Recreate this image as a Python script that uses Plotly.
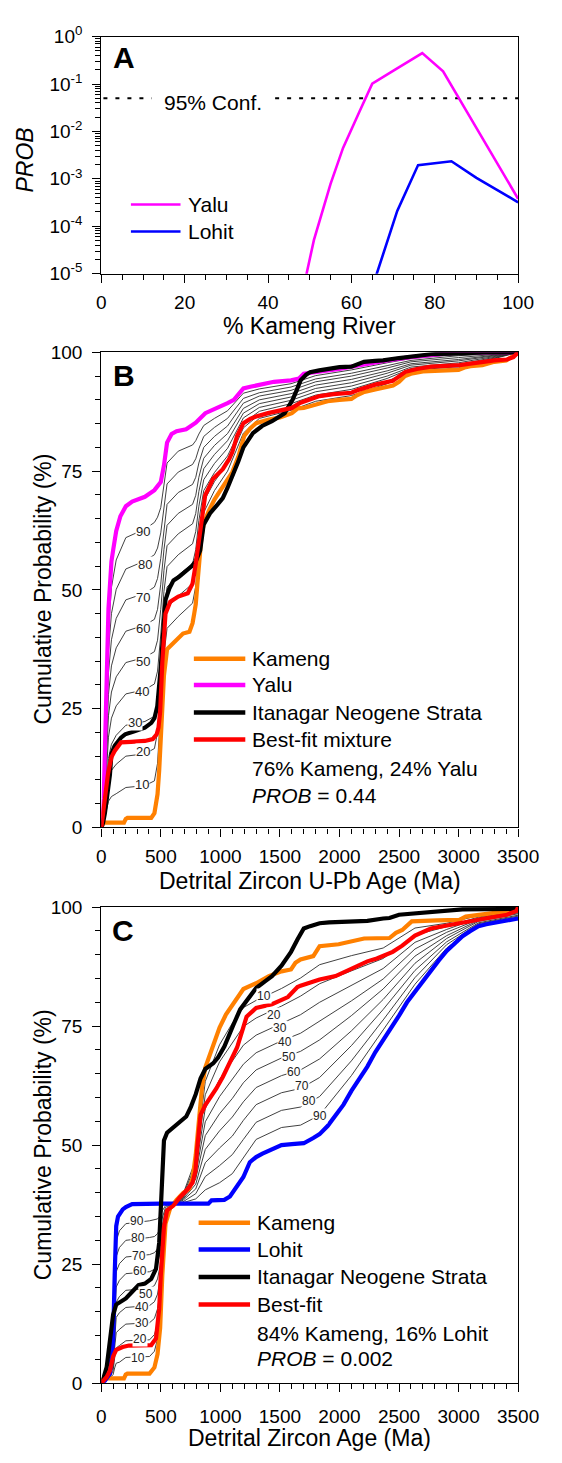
import math
import plotly.graph_objects as go

FONT = "Liberation Sans, Arial, Helvetica, sans-serif"
ORANGE = "#FF8000"
MAGENTA = "#FF00FF"
BLUE = "#0000FF"
RED = "#FF0000"
BLACK = "#000000"
THIN = "#2b2b2b"

# ---------------- Panel A data ----------------
a_yalu_pct = [48.5, 49.2, 51, 55, 58, 62, 65, 70, 77, 82, 100]
a_yalu_prob = [5.0e-6, 1.0e-5, 5.1e-5, 7.8e-4, 4.5e-3, 2.7e-2, 0.102, 0.19, 0.45, 0.186, 3.8e-4]
a_lohit_pct = [64.8, 66.1, 71, 76, 84, 90, 100]
a_lohit_prob = [4.5e-6, 1.0e-5, 2.1e-4, 1.95e-3, 2.35e-3, 1.05e-3, 3.2e-4]
a_conf_level = 0.05
a_conf_left = [0.5, 12.1]
a_conf_right = [41.7, 100]

# ---------------- Panel B data (Kameng vs Yalu) ----------------
b_kameng_age = [0, 8, 20, 190, 205, 219, 419, 446, 472, 486, 499, 512, 526, 552, 592, 646, 686, 740, 766, 780,
                793, 806, 819, 840, 860, 900, 950, 1000, 1050, 1100, 1150, 1200, 1250, 1300, 1400, 1500, 1600, 1650, 1700, 1800,
                1900, 2000, 2100, 2150, 2200, 2300, 2400, 2450, 2500, 2550, 2600, 2700, 2800, 3000, 3050, 3100, 3200, 3250, 3300, 3400,
                3450, 3480, 3500]
b_kameng_cum = [0, 0.5, 1, 1, 1.8, 2, 2, 3, 7, 12, 19, 26, 32, 37.5, 38.5, 40, 40.8, 41.2, 43, 45,
                47, 51, 55.5, 61, 64, 66.5, 69, 71, 73, 74.8, 78, 82.4, 84, 85.1, 85.8, 86.3, 87.2, 88.2, 88.3, 89,
                89.7, 90, 90.2, 91, 91.6, 92.2, 92.8, 93, 93.8, 95, 95.5, 96, 96.1, 96.3, 96.8, 97.1, 97.3, 97.6, 98, 98.3,
                99, 99.6, 100]

b_yalu_age = [0, 10, 20, 30, 40, 50, 60, 70, 85, 100, 125, 160, 206, 259, 320, 366, 446, 499, 526, 552,
              590, 632, 712, 793, 873, 950, 1006, 1060, 1113, 1150, 1193, 1260, 1327, 1450, 1593, 1660, 1700, 1800, 1900, 2000,
              2100, 2200, 2400, 2600, 2800, 3000, 3500]
b_yalu_cum = [0, 1, 6, 14, 24, 36, 46, 52, 56, 58.5, 62.4, 65.5, 67.6, 68.6, 69.3, 69.6, 71, 72.7, 76.2, 81,
              82.8, 83.4, 83.8, 85.2, 87.2, 88, 88.6, 89.3, 90, 91.2, 92.4, 92.8, 93.1, 93.8, 94.1, 94.5, 95.5, 95.8, 96, 96.5,
              97, 97.5, 98.3, 99, 99.5, 100, 100]

b_itan_age = [0, 15, 30, 45, 60, 72, 85, 112, 165, 200, 272, 366, 420, 446, 470, 486, 500, 512, 525, 539,
              570, 606, 650, 713, 760, 793, 830, 859, 912, 970, 1020, 1060, 1113, 1150, 1193, 1240, 1273, 1350, 1433, 1540,
              1606, 1640, 1673, 1720, 1753, 1830, 1913, 2000, 2100, 2150, 2206, 2300, 2366, 2500, 2633, 2767, 3033, 3200, 3500]
b_itan_cum = [0, 1, 3, 6, 9, 11, 15.5, 17.2, 18.9, 19.6, 20.2, 21, 22, 23, 25.5, 29.2, 34, 38.3, 44, 47.9,
              50.2, 52, 52.7, 54, 55, 56, 58.3, 63.7, 66.1, 67.8, 69.3, 71.5, 74.5, 77, 80, 82, 83, 84.5, 85.5, 87.2,
              90, 92, 94.1, 95.3, 95.8, 96.2, 96.6, 96.9, 97, 97.5, 98, 98.2, 98.3, 98.8, 99.1, 99.6, 99.8, 100, 100]

b_best_age = [0, 13, 30, 45, 56, 70, 85, 112, 139, 165, 250, 366, 432, 465, 480, 494, 512, 525, 539, 579,
              646, 726, 766, 793, 815, 832, 850, 872, 939, 1020, 1073, 1100, 1140, 1193, 1250, 1300, 1400, 1513, 1600, 1673,
              1750, 1833, 1950, 2100, 2150, 2207, 2300, 2447, 2500, 2554, 2650, 2767, 3007, 3087, 3200, 3300, 3407, 3460, 3500]
b_best_cum = [0, 3, 6, 9, 11.3, 13, 14.8, 16.1, 17.2, 17.9, 18, 18.2, 18.6, 19.6, 21, 24.4, 34.7, 40, 45, 47.5,
              48.6, 49.3, 51.3, 55.5, 60, 62.4, 66, 69.9, 73.4, 75.4, 77.5, 79, 82.4, 85.1, 86, 86.5, 87.2, 87.7, 88.3, 89.4,
              90, 90.8, 91.2, 91.5, 92, 92.5, 93.2, 94, 95, 95.9, 96.5, 97, 97.3, 97.6, 97.9, 98.3, 98.5, 99, 100]

# thin mixture curves (label = % Yalu)
b_mix_age = [0, 20, 40, 60, 85, 125, 206, 366, 446, 472, 499, 526, 552, 646, 766, 793, 819, 860, 950, 1060,
             1193, 1327, 1593, 1800, 2100, 2400, 2600, 3000, 3500]
b_mix_10 = [0, 1.5, 3.3, 5.5, 6.5, 7.1, 8.4, 8.8, 9.8, 13.5, 24.4, 36.4, 41.9, 44.4, 47.2, 50.8, 58.5, 66.3, 70.9, 75, 83, 86.1, 87.8, 89.7, 90.9, 93.4, 95.9, 96.7, 100]
b_mix_20 = [0, 2, 5.6, 10, 12, 13.3, 15, 15.5, 16.6, 20, 29.7, 40.8, 46.2, 48.7, 51.3, 54.6, 61.6, 68.6, 72.8, 76.6, 84.1, 86.9, 88.5, 90.4, 91.6, 93.9, 96.2, 97, 100]
b_mix_30 = [0, 2.5, 7.9, 14.5, 17.5, 19.4, 21.5, 22.3, 23.4, 26.4, 35.1, 45.3, 50.6, 53.1, 55.5, 58.5, 64.6, 70.9, 74.7, 78.2, 85.1, 87.6, 89.2, 91, 92.2, 94.5, 96.6, 97.4, 100]
b_mix_40 = [0, 3, 10.2, 19, 23, 25.6, 28.1, 29, 30.2, 32.9, 40.5, 49.7, 54.9, 57.4, 59.7, 62.3, 67.6, 73.2, 76.6, 79.8, 86.2, 88.4, 89.9, 91.7, 92.9, 95, 96.9, 97.8, 100]
b_mix_50 = [0, 3.5, 12.5, 23.5, 28.5, 31.7, 34.7, 35.8, 37, 39.4, 45.9, 54.1, 59.3, 61.8, 63.9, 66.1, 70.7, 75.5, 78.5, 81.4, 87.2, 89.2, 90.6, 92.4, 93.6, 95.6, 97.3, 98.2, 100]
b_mix_60 = [0, 4, 14.8, 28, 34, 37.8, 41.3, 42.6, 43.8, 45.9, 51.2, 58.5, 63.6, 66.1, 68, 69.9, 73.7, 77.7, 80.4, 82.9, 88.2, 90, 91.3, 93.1, 94.3, 96.1, 97.6, 98.5, 100]
b_mix_70 = [0, 4.5, 17.1, 32.5, 39.5, 44, 47.9, 49.3, 50.6, 52.4, 56.6, 62.9, 68, 70.5, 72.2, 73.7, 76.7, 80, 82.3, 84.5, 89.3, 90.8, 92, 93.8, 95, 96.7, 98, 98.9, 100]
b_mix_80 = [0, 5, 19.4, 37, 45, 50.1, 54.4, 56.1, 57.4, 58.8, 62, 67.4, 72.3, 74.8, 76.4, 77.6, 79.7, 82.3, 84.2, 86.1, 90.3, 91.5, 92.7, 94.4, 95.6, 97.2, 98.3, 99.3, 100]
b_mix_90 = [0, 5.5, 21.7, 41.5, 50.5, 56.3, 61, 62.8, 64.2, 65.3, 67.3, 71.8, 76.7, 79.2, 80.5, 81.4, 82.8, 84.6, 86.1, 87.7, 91.4, 92.3, 93.4, 95.1, 96.3, 97.8, 98.7, 99.6, 100]

b_label_pct = [10, 20, 30, 40, 50, 60, 70, 80, 90]
b_label_age = [339, 352, 285, 339, 352, 352, 352, 365, 352]
b_label_cum = [9.0, 16.0, 22.0, 28.6, 35.0, 41.8, 48.3, 55.3, 62.2]

# ---------------- Panel C data (Kameng vs Lohit) ----------------
c_kameng_age = [0, 8, 20, 190, 205, 219, 405, 446, 472, 494, 512, 539, 579, 632, 686, 740, 766, 793, 819, 846,
                873, 912, 953, 993, 1046, 1100, 1140, 1193, 1300, 1407, 1513, 1593, 1630, 1673, 1780, 1810, 1833, 1993, 2127, 2207,
                2420, 2474, 2527, 2607, 2820, 3007, 3060, 3247, 3354, 3460, 3500]
c_kameng_cum = [0, 0.5, 1, 1, 1.8, 2, 2, 3.3, 6.1, 11.6, 22.6, 33.5, 36.8, 38.5, 39.9, 40.9, 43, 48, 55, 62.2,
                66.3, 69.1, 71.9, 74.7, 77.4, 79.5, 80.9, 82.8, 84, 85.5, 86.5, 86.9, 88.3, 89, 89.7, 90.8, 91.8, 92.2, 93, 93.4,
                93.5, 94.6, 95.2, 97, 97.2, 97.3, 98, 98.6, 98.9, 99.3, 100]

c_lohit_age = [0, 30, 72, 99, 112, 125, 140, 152, 180, 206, 259, 500, 899, 926, 1033, 1080, 1113, 1160, 1193, 1247,
               1300, 1353, 1420, 1513, 1600, 1700, 1780, 1833, 1900, 1967, 2034, 2100, 2167, 2234, 2300, 2367, 2434, 2500, 2567, 2634,
               2700, 2767, 2834, 2900, 2967, 3033, 3100, 3167, 3233, 3300, 3400, 3460, 3500]
c_lohit_cum = [0, 0.5, 2, 8.9, 22.7, 33, 35, 35.4, 36.5, 37, 37.6, 37.7, 37.7, 38.4, 38.5, 39.2, 40.5, 42, 43.3, 46.4,
               47.5, 48.2, 49, 50, 50.2, 50.4, 51.5, 52.3, 54, 56.2, 58.5, 61.4, 64, 66.5, 69.5, 72, 74.5, 77.2, 80, 82.3,
               84.5, 86.7, 88.8, 90.8, 92.4, 93.9, 95, 96, 96.4, 96.7, 97.1, 97.4, 97.6]

c_itan_age = [0, 20, 45, 72, 99, 125, 160, 206, 259, 312, 366, 419, 459, 486, 499, 512, 526, 552, 606, 659,
              713, 753, 793, 833, 873, 940, 980, 1033, 1073, 1113, 1166, 1220, 1300, 1380, 1433, 1513, 1567, 1593, 1647, 1673,
              1700, 1753, 1833, 1913, 2100, 2234, 2367, 2420, 2500, 2634, 2767, 2900, 3033, 3460, 3500]
c_itan_cum = [0, 1.2, 3.4, 8.9, 14.4, 16.5, 17, 17.8, 19.2, 20.6, 20.9, 21.9, 24, 29.5, 36.4, 44.5, 51, 52.6, 53.8, 54.9,
              56, 58.1, 60.7, 64, 66, 67.2, 68.4, 70.7, 73.3, 75.5, 78.5, 80.2, 83, 84.5, 85.5, 87.7, 89.5, 90.6, 93.2, 94.3,
              95.5, 96, 96.6, 96.8, 96.9, 97.1, 97.6, 97.7, 98.4, 98.7, 99.1, 99.4, 99.5, 99.6, 100]

c_best_age = [0, 20, 45, 72, 99, 125, 179, 232, 419, 459, 486, 499, 512, 526, 552, 606, 659, 713, 766, 790,
              806, 833, 873, 913, 966, 1020, 1073, 1140, 1193, 1220, 1300, 1433, 1567, 1647, 1673, 1833, 1967, 2100, 2180, 2234,
              2314, 2420, 2447, 2527, 2634, 2767, 3033, 3247, 3407, 3487, 3500]
c_best_cum = [0, 0.6, 1.3, 2.6, 5.6, 7, 7.6, 7.9, 8, 9.4, 15.6, 22.5, 28, 32.8, 36.3, 37.3, 39, 40.4, 42.1, 44.5,
              49.5, 56.3, 58.4, 59.8, 61.9, 64.3, 66.9, 70.5, 74.8, 77, 78.8, 79.6, 81.1, 83.2, 83.5, 84.8, 85.5, 87, 88.1, 88.6,
              89.2, 90.2, 90.6, 91.9, 94, 95.5, 96.6, 97.7, 98.4, 99.2, 100]

# thin mixture curves (label = % Lohit)
c_mix_age = [0, 45, 72, 99, 112, 125, 152, 206, 405, 446, 472, 494, 512, 539, 579, 686, 793, 873, 993, 1100,
             1193, 1300, 1513, 1673, 1833, 2100, 2367, 2634, 2900, 3167, 3500]
c_mix_10 = [0, 1, 1.1, 1.8, 3.2, 4.2, 4.4, 5.4, 5.6, 6.7, 9.3, 14.2, 24.1, 33.9, 36.9, 39.7, 47, 63.4, 71.1, 75.6, 78.9, 80.4, 82.9, 85.1, 87.9, 89.8, 91.4, 95.6, 96.6, 98.2, 99.8]
c_mix_20 = [0, 1, 1.2, 2.6, 5.3, 7.4, 7.9, 8.9, 9.1, 10.2, 12.4, 16.8, 25.6, 34.3, 37, 39.5, 45.9, 60.6, 67.5, 71.6, 74.9, 76.7, 79.2, 81.3, 83.9, 86.6, 89.2, 94.1, 95.9, 97.9, 99.5]
c_mix_30 = [0, 1, 1.3, 3.4, 7.5, 10.6, 11.3, 12.4, 12.7, 13.6, 15.6, 19.4, 27.1, 34.8, 37.1, 39.2, 44.9, 57.7, 63.8, 67.7, 71, 73.1, 75.6, 77.4, 80, 83.5, 87.1, 92.6, 95.3, 97.7, 99.3]
c_mix_40 = [0, 1, 1.4, 4.2, 9.7, 13.8, 14.8, 15.9, 16.3, 17.1, 18.7, 22, 28.6, 35.2, 37.2, 39, 43.9, 54.9, 60.2, 63.7, 67, 69.4, 71.9, 73.5, 76, 80.3, 84.9, 91.2, 94.7, 97.4, 99]
c_mix_50 = [0, 1, 1.5, 5, 11.9, 17, 18.2, 19.5, 19.9, 20.5, 21.9, 24.7, 30.2, 35.6, 37.3, 38.8, 42.9, 52, 56.6, 59.8, 63.1, 65.8, 68.3, 69.7, 72.1, 77.2, 82.8, 89.7, 94, 97.2, 98.8]
c_mix_60 = [0, 1, 1.6, 5.7, 14, 20.2, 21.6, 23, 23.4, 23.9, 25.1, 27.3, 31.7, 36, 37.3, 38.6, 41.8, 49.1, 53, 55.9, 59.1, 62.1, 64.6, 65.8, 68.1, 74, 80.6, 88.2, 93.4, 97, 98.6]
c_mix_70 = [0, 1, 1.7, 6.5, 16.2, 23.4, 25.1, 26.5, 27, 27.4, 28.2, 29.9, 33.2, 36.4, 37.4, 38.4, 40.8, 46.3, 49.4, 51.9, 55.2, 58.5, 61, 61.9, 64.2, 70.9, 78.5, 86.7, 92.7, 96.7, 98.3]
c_mix_80 = [0, 1, 1.8, 7.3, 18.4, 26.6, 28.5, 30, 30.6, 30.8, 31.4, 32.5, 34.7, 36.9, 37.5, 38.1, 39.8, 43.4, 45.7, 48, 51.2, 54.8, 57.3, 58, 60.2, 67.7, 76.3, 85.2, 92.1, 96.5, 98.1]
c_mix_90 = [0, 1, 1.9, 8.1, 20.5, 29.8, 32, 33.5, 34.1, 34.3, 34.5, 35.1, 36.2, 37.3, 37.6, 37.9, 38.7, 40.6, 42.1, 44, 47.3, 51.2, 53.7, 54.2, 56.3, 64.6, 74.2, 83.8, 91.4, 96.2, 97.8]

c_label_pct = [10, 20, 30, 40, 50, 60, 70, 80, 90]
c_label_age_low = [312, 325, 339, 339, 374, 325, 320, 312, 299]
c_label_cum_low = [5.3, 9.2, 12.7, 16.0, 18.8, 23.5, 26.8, 30.4, 34.0]
c_label_age_high = [1367, 1447, 1500, 1540, 1580, 1620, 1687, 1740, 1834]
c_label_cum_high = [81.4, 77.4, 74.5, 71.6, 68.6, 65.4, 62.4, 59.3, 56.1]

# ---------------- figure ----------------
W, H = 562, 1463
X_DOM = [101 / W, 538 / W]
A_TOP, A_BOT = 24, 265
A_DOM = [1 - A_BOT / H, 1 - A_TOP / H]
B_DOM = [1 - 828 / H, 1 - 345 / H]
C_DOM = [1 - 1393 / H, 1 - 909 / H]

fig = go.Figure()


def add_line(x, y, color, width, xa, ya, dash=None):
    fig.add_trace(go.Scatter(x=x, y=y, mode="lines",
                             line=dict(color=color, width=width, dash=dash),
                             xaxis=xa, yaxis=ya, showlegend=False, hoverinfo="skip"))


# Panel A
add_line(a_conf_left, [a_conf_level] * 2, BLACK, 2, "x", "y", dash="4px,8px")
add_line(a_conf_right, [a_conf_level] * 2, BLACK, 2, "x", "y", dash="4px,8px")
add_line(a_yalu_pct, a_yalu_prob, MAGENTA, 2.6, "x", "y")
add_line(a_lohit_pct, a_lohit_prob, BLUE, 2.6, "x", "y")

# Panel B
for mix in [b_mix_10, b_mix_20, b_mix_30, b_mix_40, b_mix_50, b_mix_60, b_mix_70, b_mix_80, b_mix_90]:
    add_line(b_mix_age, mix, THIN, 0.9, "x2", "y2")
add_line(b_kameng_age, b_kameng_cum, ORANGE, 4.2, "x2", "y2")
add_line(b_yalu_age, b_yalu_cum, MAGENTA, 4.2, "x2", "y2")
add_line(b_itan_age, b_itan_cum, BLACK, 4.2, "x2", "y2")
add_line(b_best_age, b_best_cum, RED, 4.2, "x2", "y2")

# Panel C
for mix in [c_mix_10, c_mix_20, c_mix_30, c_mix_40, c_mix_50, c_mix_60, c_mix_70, c_mix_80, c_mix_90]:
    add_line(c_mix_age, mix, THIN, 0.9, "x3", "y3")
add_line(c_kameng_age, c_kameng_cum, ORANGE, 4.2, "x3", "y3")
add_line(c_lohit_age, c_lohit_cum, BLUE, 4.2, "x3", "y3")
add_line(c_itan_age, c_itan_cum, BLACK, 4.2, "x3", "y3")
add_line(c_best_age, c_best_cum, RED, 4.2, "x3", "y3")


def axis_style(**kw):
    d = dict(showline=True, linecolor="black", linewidth=1.3, mirror=True,
             ticks="outside", ticklen=8, tickwidth=1.3, tickcolor="black",
             showgrid=False, zeroline=False, fixedrange=True,
             tickfont=dict(family=FONT, size=19, color="black"))
    d.update(kw)
    return d


def minor(dt):
    return dict(dtick=dt, ticks="outside", ticklen=5, tickwidth=1.2, tickcolor="black", showgrid=False)


log_major = [1e-5, 1e-4, 1e-3, 1e-2, 1e-1, 1]
log_text = ["10<sup>-5</sup>", "10<sup>-4</sup>", "10<sup>-3</sup>", "10<sup>-2</sup>", "10<sup>-1</sup>", "10<sup>0</sup>"]
log_minor = [k * 10 ** e for e in range(-5, 0) for k in range(2, 10)]

fig.update_layout(
    width=W, height=H, margin=dict(l=0, r=0, t=0, b=0),
    paper_bgcolor="white", plot_bgcolor="white",
    font=dict(family=FONT, color="black"),
    xaxis=axis_style(domain=X_DOM, anchor="y", range=[0, 100], tick0=0, dtick=20,
                     minor=minor(5), ticklabelstandoff=3),
    yaxis=axis_style(domain=A_DOM, anchor="x", type="log", range=[-5, 0],
                     tickvals=log_major, ticktext=log_text, ticklabelstandoff=6,
                     minor=dict(tickvals=log_minor, ticks="outside", ticklen=5, tickwidth=1.1,
                                tickcolor="black", showgrid=False)),
    xaxis2=axis_style(domain=X_DOM, anchor="y2", range=[0, 3500], tick0=0, dtick=500,
                      minor=minor(100), ticklabelstandoff=4),
    yaxis2=axis_style(domain=B_DOM, anchor="x2", range=[0, 100], tick0=0, dtick=25,
                      minor=minor(5), ticklabelstandoff=6),
    xaxis3=axis_style(domain=X_DOM, anchor="y3", range=[0, 3500], tick0=0, dtick=500,
                      minor=minor(100), ticklabelstandoff=8),
    yaxis3=axis_style(domain=C_DOM, anchor="x3", range=[0, 100], tick0=0, dtick=25,
                      minor=minor(5), ticklabelstandoff=6),
)

ann = []
shapes = []


def text(x, y, s, size, xref="paper", yref="paper", xanchor="center", yanchor="middle",
         angle=0, bg=None, color="black"):
    d = dict(x=x, y=y, xref=xref, yref=yref, text=s, showarrow=False,
             font=dict(family=FONT, size=size, color=color),
             xanchor=xanchor, yanchor=yanchor, textangle=angle)
    if bg:
        d.update(bgcolor=bg, borderpad=0)
    ann.append(d)


def a_paper_y(prob):
    # paper coordinate of a PROB value on panel A's log axis
    frac = (math.log10(prob) + 5) / 5
    return A_DOM[0] + frac * (A_DOM[1] - A_DOM[0])


def a_paper_x(pct):
    return X_DOM[0] + pct / 100 * (X_DOM[1] - X_DOM[0])


cx = (101 + 538) / 2 / W
# titles
text(cx, 1 - 318 / H, "% Kameng River", 23)
text(21 / W, 1 - 150 / H, "<i>PROB</i>", 23, angle=-90)
text(cx, 1 - 882 / H, "Detrital Zircon U-Pb Age (Ma)", 23)
text(40 / W, 1 - 586 / H, "Cumulative Probability (%)", 23, angle=-90)
text(cx, 1 - 1449 / H, "Detrital Zircon Age (Ma)", 23)
text(40 / W, 1 - 1151 / H, "Cumulative Probability (%)", 23, angle=-90)
# panel letters
text(125 / W, 1 - 45 / H, "<b>A</b>", 30)
text(125 / W, 1 - 369 / H, "<b>B</b>", 30)
text(124 / W, 1 - 933 / H, "<b>C</b>", 30)

# Panel A texts & legend
text(a_paper_x(26.9), a_paper_y(0.040), "95% Conf.", 21)
for yv, col, lab in [(10 ** -3.54, MAGENTA, "Yalu"), (10 ** -4.11, BLUE, "Lohit")]:
    shapes.append(dict(type="line", xref="paper", yref="paper",
                       x0=a_paper_x(7.1), x1=a_paper_x(19),
                       y0=a_paper_y(yv), y1=a_paper_y(yv), line=dict(color=col, width=2.6)))
    text(a_paper_x(20.3), a_paper_y(yv), lab, 21, xanchor="left")

# Panel B legend
for yv, col, lab in [(35.5, ORANGE, "Kameng"), (30.0, MAGENTA, "Yalu"),
                     (24.2, BLACK, "Itanagar Neogene Strata"), (18.5, RED, "Best-fit mixture")]:
    shapes.append(dict(type="line", xref="x2", yref="y2", x0=777, x1=1209, y0=yv, y1=yv,
                       line=dict(color=col, width=4.5)))
    text(1249, yv, lab, 21, xref="x2", yref="y2", xanchor="left")
text(1249, 12.5, "76% Kameng, 24% Yalu", 21, xref="x2", yref="y2", xanchor="left")
text(1249, 6.8, "<i>PROB</i> = 0.44", 21, xref="x2", yref="y2", xanchor="left")

# Panel C legend
for yv, col, lab in [(33.7, ORANGE, "Kameng"), (28.1, BLUE, "Lohit"),
                     (22.3, BLACK, "Itanagar Neogene Strata"), (16.5, RED, "Best-fit")]:
    shapes.append(dict(type="line", xref="x3", yref="y3", x0=817, x1=1249, y0=yv, y1=yv,
                       line=dict(color=col, width=4.5)))
    text(1289, yv, lab, 21, xref="x3", yref="y3", xanchor="left")
text(1289, 10.5, "84% Kameng, 16% Lohit", 21, xref="x3", yref="y3", xanchor="left")
text(1289, 5.1, "<i>PROB</i> = 0.002", 21, xref="x3", yref="y3", xanchor="left")

# mixture labels
for p, a, c in zip(b_label_pct, b_label_age, b_label_cum):
    text(a, c, str(p), 13, xref="x2", yref="y2", bg="white", color="#222")
for p, a, c in zip(c_label_pct, c_label_age_low, c_label_cum_low):
    text(a, c, str(p), 12, xref="x3", yref="y3", bg="white", color="#222")
for p, a, c in zip(c_label_pct, c_label_age_high, c_label_cum_high):
    text(a, c, str(p), 12, xref="x3", yref="y3", bg="white", color="#222")

fig.update_layout(annotations=ann, shapes=shapes)
fig.write_html("out.html")
